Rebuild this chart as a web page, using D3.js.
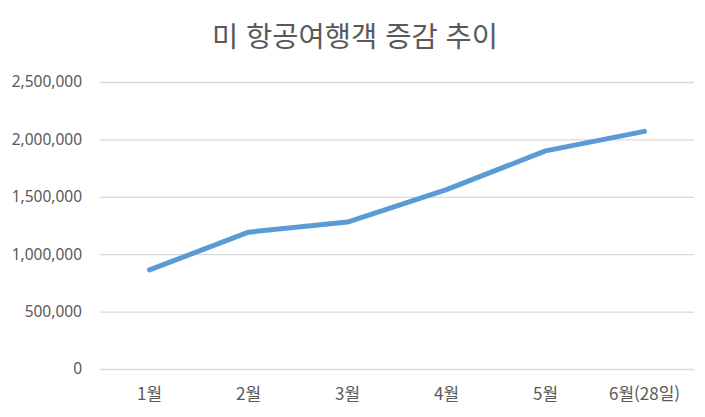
<!DOCTYPE html>
<html lang="ko">
<head>
<meta charset="UTF-8">
<title>미 항공여행객 증감 추이</title>
<style>
  body { margin: 0; background: #fff; }
  .grid line { stroke: #d9d9d9; stroke-width: 1.3; }
  .tick text { fill: #595959; }
</style>
<script src="https://d3js.org/d3.v7.min.js"></script>
</head>
<body>
<script>
// data
const months = ["1월", "2월", "3월", "4월", "5월", "6월(28일)"];
const travellers = [863000, 1192000, 1280000, 1562000, 1900000, 2070000];
const yTicks = [0, 500000, 1000000, 1500000, 2000000, 2500000];

const W = 705, H = 417;
const margin = {top: 82, right: 11, bottom: 48, left: 100};
const width = W - margin.left - margin.right,
      height = H - margin.top - margin.bottom;

const svg = d3.select("body").append("svg")
    .attr("width", W)
    .attr("height", H);

svg.append("text")
    .attr("x", 355)
    .attr("y", 47)
    .attr("text-anchor", "middle")
    .style("font-family", "'Noto Sans CJK KR', sans-serif")
    .style("font-size", "28.5px")
    .style("fill", "#595959")
    .text("미 항공여행객 증감 추이");

const g = svg.append("g")
    .attr("transform", "translate(" + margin.left + "," + margin.top + ")");

const x = d3.scaleBand().domain(months).range([0, width]);
const y = d3.scaleLinear().domain([0, 2500000]).range([height, 0]);

// gridlines
g.append("g")
    .attr("class", "grid")
    .call(d3.axisLeft(y).tickValues(yTicks).tickSize(-width).tickFormat(""))
    .call(a => a.select(".domain").remove());

// y labels
g.append("g")
    .call(d3.axisLeft(y).tickValues(yTicks).tickSize(0).tickPadding(18).tickFormat(d3.format(",")))
    .call(a => a.select(".domain").remove())
    .selectAll("text")
    .style("font-family", "'Noto Sans', sans-serif")
    .style("font-size", "15.5px");

// x labels
g.append("g")
    .attr("transform", "translate(0," + height + ")")
    .call(d3.axisBottom(x).tickSize(0).tickPadding(19))
    .call(a => a.select(".domain").remove())
    .selectAll("text")
    .style("font-family", "'Noto Sans CJK KR', sans-serif")
    .style("font-size", "17px");

const line = d3.line()
    .x((d, i) => x(months[i]) + x.bandwidth() / 2)
    .y(d => y(d));

g.append("path")
    .datum(travellers)
    .attr("d", line)
    .attr("fill", "none")
    .attr("stroke", "#5b9bd5")
    .attr("stroke-width", 5)
    .attr("stroke-linecap", "round")
    .attr("stroke-linejoin", "round");
</script>
</body>
</html>
